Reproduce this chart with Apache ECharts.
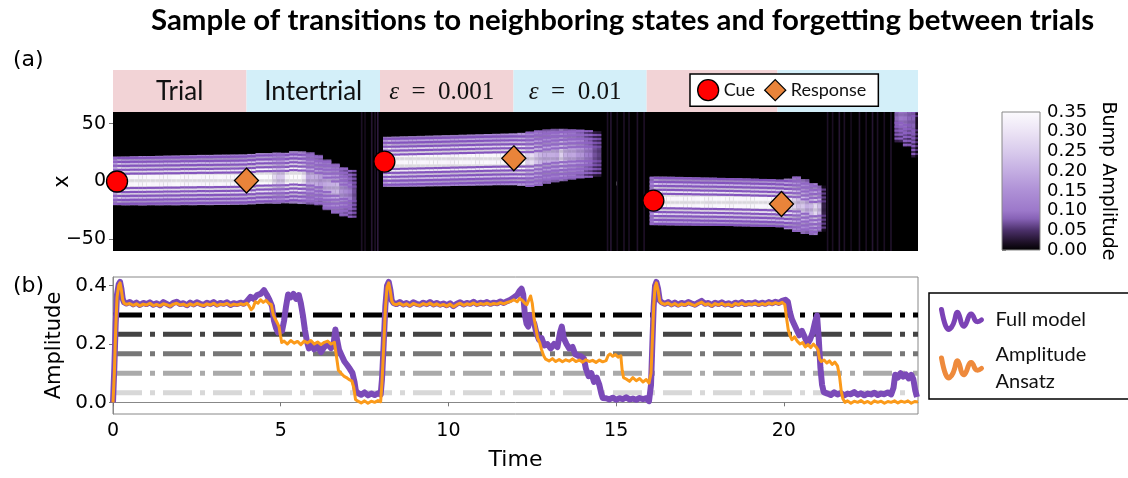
<!DOCTYPE html>
<html><head><meta charset="utf-8">
<script src="https://cdn.jsdelivr.net/npm/echarts@6/dist/echarts.min.js"></script>
<style>html,body{margin:0;padding:0;background:#fff}#c{width:1128px;height:478px}</style>
</head><body><div id="c"></div>
<script>
// ================= DATA =================
const timeTicks = [0, 5, 10, 15, 20];
const posTicks = [-50, 0, 50];
const ampTicks = [0.0, 0.2, 0.4];
const cbarTicks = [0, 0.05, 0.1, 0.15, 0.2, 0.25, 0.3, 0.35];

const phaseStart = [0, 3.98, 7.96, 11.94, 15.91, 19.81];
const phaseEnd   = [3.98, 7.96, 11.94, 15.91, 19.81, 24];
const phaseLabel = ['Trial', 'Intertrial', '{e|ε}  =  0.001', '{e|ε}  =  0.01', '', ''];
const phaseKind  = ['trial', 'inter', 'trial', 'inter', 'trial', 'inter'];

const cueTime  = [0.12, 8.09, 16.11];
const cueX     = [0, 17.2, -16.5];
const respTime = [3.98, 11.95, 19.93];
const respX    = [0.8, 20, -19.4];

const thresholdLevels = [0.3, 0.2333, 0.1667, 0.1, 0.0333];
const thresholdColors = ['#000000', '#444444', '#777777', '#aaaaaa', '#d8d8d8'];

// Full model amplitude [time, amplitude]
const fullModel = [
[0,0.0],[0.04,0.12],[0.08,0.27],[0.12,0.37],[0.17,0.405],[0.21,0.413],[0.25,0.39],[0.29,0.355],[0.33,0.343],
[0.4,0.339],[0.5,0.344],[0.6,0.336],[0.7,0.342],[0.8,0.334],[0.9,0.341],[1.0,0.337],[1.1,0.343],[1.2,0.335],[1.3,0.340],[1.4,0.333],[1.5,0.344],[1.6,0.338],[1.7,0.332],[1.8,0.341],[1.9,0.345],[2.0,0.337],[2.1,0.340],[2.2,0.333],[2.3,0.342],[2.4,0.336],[2.5,0.343],[2.6,0.338],[2.7,0.334],[2.8,0.342],[2.9,0.337],[3.0,0.344],[3.1,0.335],[3.2,0.341],[3.3,0.338],[3.4,0.343],[3.5,0.334],[3.6,0.340],[3.7,0.337],[3.8,0.342],[3.9,0.338],
[4.0,0.348],[4.1,0.362],[4.2,0.355],[4.3,0.368],[4.4,0.372],[4.5,0.385],[4.58,0.37],[4.66,0.352],[4.74,0.33],[4.8,0.28],[4.86,0.255],[4.92,0.24],[4.98,0.252],[5.04,0.245],[5.1,0.28],[5.16,0.33],[5.22,0.37],[5.3,0.36],[5.38,0.372],[5.46,0.355],[5.54,0.368],[5.6,0.34],[5.66,0.3],[5.72,0.25],[5.78,0.21],[5.84,0.185],[5.9,0.2],[6.0,0.182],[6.1,0.195],[6.2,0.172],[6.3,0.19],[6.4,0.2],[6.5,0.186],[6.58,0.205],[6.63,0.25],[6.68,0.215],[6.74,0.18],[6.82,0.16],[6.9,0.14],[6.98,0.128],[7.06,0.115],[7.14,0.1],[7.2,0.07],[7.24,0.04],[7.3,0.032],[7.4,0.026],[7.5,0.034],[7.6,0.024],[7.7,0.03],[7.8,0.025],[7.9,0.031],[7.98,0.027],
[8.02,0.08],[8.07,0.2],[8.12,0.33],[8.17,0.4],[8.22,0.413],[8.27,0.385],[8.31,0.35],[8.36,0.341],
[8.45,0.337],[8.55,0.344],[8.65,0.336],[8.75,0.341],[8.85,0.334],[8.95,0.343],[9.05,0.338],[9.15,0.335],[9.25,0.342],[9.35,0.337],[9.45,0.344],[9.55,0.336],[9.65,0.341],[9.75,0.335],[9.85,0.339],[9.95,0.333],[10.05,0.34],[10.15,0.33],[10.25,0.338],[10.35,0.343],[10.45,0.336],[10.55,0.341],[10.65,0.338],[10.75,0.345],[10.85,0.337],[10.95,0.342],[11.05,0.339],[11.15,0.344],[11.25,0.338],[11.35,0.342],[11.45,0.34],[11.55,0.346],[11.65,0.341],[11.75,0.347],[11.85,0.352],
[11.95,0.36],[12.05,0.368],[12.12,0.382],[12.18,0.39],[12.23,0.37],[12.28,0.3],[12.33,0.27],[12.38,0.26],[12.44,0.3],[12.5,0.285],[12.56,0.27],[12.62,0.24],[12.7,0.215],[12.78,0.22],[12.86,0.195],[12.95,0.2],[13.05,0.185],[13.15,0.2],[13.25,0.19],[13.33,0.24],[13.38,0.26],[13.44,0.22],[13.52,0.2],[13.6,0.185],[13.7,0.19],[13.78,0.165],[13.86,0.16],[13.95,0.158],[14.04,0.15],[14.1,0.115],[14.18,0.09],[14.26,0.1],[14.34,0.07],[14.42,0.085],[14.5,0.06],[14.56,0.03],[14.6,0.015],
[14.7,0.014],[14.8,0.01],[14.9,0.016],[15.0,0.009],[15.1,0.014],[15.2,0.011],[15.3,0.017],[15.4,0.01],[15.5,0.013],[15.6,0.009],[15.7,0.015],[15.8,0.011],[15.9,0.014],[15.98,0.004],
[16.04,0.06],[16.08,0.2],[16.12,0.33],[16.16,0.4],[16.2,0.413],[16.25,0.39],[16.3,0.35],[16.36,0.343],
[16.45,0.338],[16.55,0.344],[16.65,0.336],[16.75,0.342],[16.85,0.335],[16.95,0.341],[17.05,0.337],[17.15,0.344],[17.25,0.339],[17.35,0.335],[17.45,0.342],[17.55,0.348],[17.65,0.338],[17.75,0.341],[17.85,0.334],[17.95,0.342],[18.05,0.337],[18.15,0.343],[18.25,0.336],[18.35,0.34],[18.45,0.334],[18.55,0.342],[18.65,0.338],[18.75,0.344],[18.85,0.337],[18.95,0.341],[19.05,0.339],[19.15,0.343],[19.25,0.337],[19.35,0.342],[19.45,0.338],[19.55,0.344],[19.65,0.34],[19.75,0.345],[19.85,0.341],[19.95,0.348],
[20.05,0.352],[20.12,0.345],[20.18,0.31],[20.24,0.285],[20.3,0.27],[20.38,0.25],[20.46,0.23],[20.54,0.245],[20.62,0.225],[20.7,0.2],[20.78,0.215],[20.86,0.24],[20.93,0.275],[20.99,0.298],[21.04,0.22],[21.09,0.12],[21.14,0.06],[21.19,0.035],
[21.3,0.03],[21.4,0.025],[21.5,0.034],[21.6,0.027],[21.7,0.032],[21.8,0.024],[21.9,0.03],[22.0,0.028],[22.1,0.035],[22.2,0.026],[22.3,0.031],[22.4,0.024],[22.5,0.03],[22.6,0.027],[22.7,0.033],[22.8,0.025],[22.9,0.03],[23.0,0.028],[23.1,0.034],[23.2,0.027],[23.27,0.05],
[23.32,0.095],[23.4,0.085],[23.48,0.1],[23.56,0.088],[23.64,0.096],[23.72,0.082],[23.8,0.094],[23.86,0.08],[23.92,0.04],[23.97,0.018],[24.0,0.02]
];

// Amplitude Ansatz [time, amplitude]
const ansatz = [
[0,0.0],[0.04,0.1],[0.08,0.25],[0.12,0.36],[0.17,0.4],[0.21,0.41],[0.25,0.385],[0.29,0.352],[0.33,0.34],
[0.4,0.336],[0.5,0.339],[0.6,0.333],[0.7,0.338],[0.8,0.331],[0.9,0.337],[1.0,0.334],[1.1,0.34],[1.2,0.332],[1.3,0.336],[1.4,0.331],[1.5,0.338],[1.6,0.335],[1.7,0.33],[1.8,0.337],[1.9,0.34],[2.0,0.334],[2.1,0.337],[2.2,0.331],[2.3,0.338],[2.4,0.333],[2.5,0.339],[2.6,0.335],[2.7,0.332],[2.8,0.338],[2.9,0.334],[3.0,0.34],[3.1,0.332],[3.2,0.337],[3.3,0.335],[3.4,0.339],[3.5,0.332],[3.6,0.337],[3.7,0.334],[3.8,0.338],[3.9,0.335],
[4.0,0.34],[4.06,0.33],[4.12,0.318],[4.18,0.325],[4.24,0.345],[4.32,0.34],[4.4,0.352],[4.48,0.343],[4.56,0.35],[4.64,0.34],[4.72,0.335],[4.78,0.3],[4.84,0.285],[4.9,0.272],[4.95,0.26],[4.99,0.23],[5.03,0.205],[5.1,0.21],[5.2,0.2],[5.3,0.212],[5.4,0.203],[5.5,0.209],[5.6,0.198],[5.7,0.21],[5.8,0.204],[5.9,0.212],[6.0,0.2],[6.1,0.207],[6.2,0.198],[6.3,0.206],[6.4,0.21],[6.5,0.2],[6.6,0.206],[6.66,0.16],[6.72,0.11],[6.8,0.1],[6.88,0.09],[6.96,0.085],[7.04,0.078],[7.12,0.074],[7.18,0.05],[7.23,0.01],[7.3,0.004],[7.4,-0.002],[7.5,0.005],[7.6,-0.003],[7.7,0.004],[7.8,0.0],[7.9,0.006],[7.98,0.002],
[8.02,0.07],[8.07,0.19],[8.12,0.32],[8.17,0.395],[8.22,0.41],[8.27,0.38],[8.31,0.348],[8.36,0.338],
[8.45,0.335],[8.55,0.34],[8.65,0.333],[8.75,0.338],[8.85,0.331],[8.95,0.339],[9.05,0.335],[9.15,0.332],[9.25,0.339],[9.35,0.334],[9.45,0.341],[9.55,0.333],[9.65,0.338],[9.75,0.332],[9.85,0.336],[9.95,0.33],[10.05,0.337],[10.15,0.328],[10.25,0.335],[10.35,0.34],[10.45,0.333],[10.55,0.338],[10.65,0.335],[10.75,0.341],[10.85,0.334],[10.95,0.339],[11.05,0.336],[11.15,0.34],[11.25,0.335],[11.35,0.339],[11.45,0.337],[11.55,0.342],[11.65,0.338],[11.75,0.343],[11.85,0.346],
[11.95,0.352],[12.05,0.345],[12.12,0.356],[12.2,0.35],[12.28,0.34],[12.34,0.335],[12.4,0.352],[12.45,0.365],[12.5,0.34],[12.55,0.29],[12.6,0.26],[12.66,0.22],[12.72,0.205],[12.78,0.18],[12.84,0.16],[12.9,0.148],[13.0,0.142],[13.1,0.15],[13.2,0.14],[13.3,0.147],[13.4,0.139],[13.5,0.146],[13.6,0.141],[13.7,0.149],[13.8,0.14],[13.9,0.145],[14.0,0.138],[14.1,0.146],[14.2,0.14],[14.3,0.144],[14.4,0.137],[14.5,0.145],[14.6,0.139],[14.7,0.143],[14.76,0.16],[14.82,0.166],[14.9,0.158],[14.98,0.164],[15.06,0.155],[15.14,0.16],[15.18,0.11],[15.22,0.085],[15.3,0.08],[15.4,0.072],[15.5,0.085],[15.6,0.074],[15.7,0.082],[15.8,0.07],[15.9,0.078],[15.98,0.066],
[16.04,0.1],[16.08,0.21],[16.12,0.33],[16.16,0.395],[16.2,0.41],[16.25,0.385],[16.3,0.348],[16.36,0.34],
[16.45,0.336],[16.55,0.341],[16.65,0.333],[16.75,0.339],[16.85,0.332],[16.95,0.338],[17.05,0.334],[17.15,0.341],[17.25,0.336],[17.35,0.332],[17.45,0.339],[17.55,0.344],[17.65,0.335],[17.75,0.338],[17.85,0.331],[17.95,0.339],[18.05,0.334],[18.15,0.34],[18.25,0.333],[18.35,0.337],[18.45,0.331],[18.55,0.339],[18.65,0.335],[18.75,0.341],[18.85,0.334],[18.95,0.338],[19.05,0.336],[19.15,0.34],[19.25,0.334],[19.35,0.339],[19.45,0.335],[19.55,0.341],[19.65,0.337],[19.75,0.342],[19.85,0.338],[19.95,0.343],
[20.03,0.335],[20.08,0.29],[20.13,0.25],[20.18,0.23],[20.24,0.215],[20.32,0.225],[20.4,0.21],[20.48,0.2],[20.56,0.205],[20.64,0.19],[20.72,0.198],[20.8,0.188],[20.88,0.2],[20.96,0.19],[21.02,0.18],[21.06,0.15],[21.12,0.14],[21.2,0.145],[21.28,0.135],[21.36,0.142],[21.44,0.13],[21.52,0.138],[21.6,0.125],[21.66,0.09],[21.71,0.04],[21.76,0.012],[21.82,0.0],
[21.9,0.005],[22.0,-0.003],[22.1,0.004],[22.2,0.0],[22.3,0.006],[22.4,-0.002],[22.5,0.003],[22.6,-0.004],[22.7,0.005],[22.8,0.0],[22.9,0.004],[23.0,-0.003],[23.1,0.003],[23.2,0.0],[23.3,0.005],[23.4,-0.002],[23.5,0.004],[23.6,0.0],[23.7,0.005],[23.8,-0.003],[23.9,0.003],[24.0,0.001]
];

// Bump edges in panel (a): start time of each 0.25-wide column, upper and lower edge (x)
const bumpTime = [
0,0.25,0.5,0.75,1,1.25,1.5,1.75,2,2.25,2.5,2.75,3,3.25,3.5,3.75,4,4.25,4.5,4.75,5,5.25,5.5,5.75,6,6.25,6.5,6.75,7,
8.05,8.3,8.55,8.8,9.05,9.3,9.55,9.8,10.05,10.3,10.55,10.8,11.05,11.3,11.55,11.8,12.05,12.3,12.55,12.8,13.05,13.3,13.55,13.8,14.05,14.3,
16,16.25,16.5,16.75,17,17.25,17.5,17.75,18,18.25,18.5,18.75,19,19.25,19.5,19.75,20,20.25,20.5,20.75,21,
23.3,23.55,23.8
];
const bumpTop = [
21.5,21.6,21.8,22,22,22.2,22.4,22.5,22.7,22.8,23,23,23.1,23.2,23.3,23.4,23.8,24.5,24.5,25,24.8,26.2,26,25.2,23,19,15.5,12.5,10,
38.6,38.8,39,39.2,39.4,39.6,39.8,40,40.2,40.4,40.6,40.8,41,41.2,41.4,41.6,42,43,44,45,45.5,45.5,45.3,45,44.3,43.6,
4.2,4.2,4.1,4,3.8,3.6,3.4,3.3,3.1,3,2.8,2.6,2.4,2.2,2,1.6,2.5,4.2,2,-1.4,-3.5,
80,80,80
];
const bumpBottom = [
-20.2,-20.4,-20.3,-20.5,-20.3,-20.4,-20.3,-20.4,-20.2,-20.3,-20.1,-20.2,-20,-20,-19.9,-19.8,-19.5,-19,-18.8,-19,-18.6,-18.8,-19.2,-19.6,-20.3,-24.5,-27.5,-30,-31,
-4.3,-4.4,-4.3,-4.2,-4.1,-4,-3.9,-3.8,-3.6,-3.5,-3.4,-3.2,-3.1,-3,-3,-3,-3.5,-4.4,-3.5,-1.8,-0.5,0.5,1.8,2.8,3.5,4.1,
-37.5,-37.6,-37.7,-37.8,-37.8,-37.9,-38,-38,-38.1,-38.2,-38.4,-38.5,-38.7,-38.8,-39,-39.2,-41,-43.3,-45,-46,-43,
34,30,21
];
// faint full-height streaks between trials
const streakTime  = [7.41,7.51,7.71,7.81,7.89,14.74,14.84,15.03,15.23,15.38,15.63,15.83,21.3,21.45,21.65,21.8,22.0,22.25,22.45,22.64,22.79,22.99,23.19];
const streakLevel = [0.02,0.015,0.025,0.02,0.03,0.02,0.025,0.015,0.02,0.018,0.022,0.02,0.02,0.018,0.025,0.02,0.015,0.022,0.018,0.025,0.02,0.018,0.022];

// colormap stops (value, colour)
const cmapStops = [[0,'#000000'],[0.02,'#1d1026'],[0.05,'#4a2f68'],[0.08,'#8762b6'],[0.1,'#9c78ca'],[0.15,'#ae90d6'],[0.2,'#c4aee2'],[0.25,'#d9cbec'],[0.3,'#ece4f5'],[0.35,'#fcfbfe']];

// ================= HELPERS =================
function hex2rgb(h){return [parseInt(h.slice(1,3),16),parseInt(h.slice(3,5),16),parseInt(h.slice(5,7),16)];}
function rgb2str(c){return 'rgb('+c.map(v=>Math.round(v)).join(',')+')';}
function cmapRGB(v){
  if (v <= cmapStops[0][0]) return hex2rgb(cmapStops[0][1]);
  for (let i=1;i<cmapStops.length;i++){
    if (v <= cmapStops[i][0]) {
      const a=cmapStops[i-1], b=cmapStops[i], f=(v-a[0])/(b[0]-a[0]);
      const ca=hex2rgb(a[1]), cb=hex2rgb(b[1]);
      return ca.map((x,k)=>x+(cb[k]-x)*f);
    }
  }
  return hex2rgb(cmapStops[cmapStops.length-1][1]);
}
function nearestAmp(t){
  let best=fullModel[0], bd=1e9;
  for (const p of fullModel){ const d=Math.abs(p[0]-t); if (d<bd){bd=d;best=p;} }
  return Math.max(0,best[1]);
}
// heat cells: [t0, t1, x0, x1, value, stripe]
const heatCells = [];
const stripeCells = [];
streakTime.forEach((t,i)=>heatCells.push([t-0.02, t+0.02, -60, 60, streakLevel[i], 0]));
for (let k=0;k<bumpTime.length;k++){
  const top=Math.min(60,bumpTop[k]), bot=Math.max(-60,bumpBottom[k]);
  const c=(bumpTop[k]+bumpBottom[k])/2, w=(bumpTop[k]-bumpBottom[k])/2;
  for (let s=0;s<2;s++){
    const a=bumpTime[k]+s*0.125, b=Math.min(24,a+0.125);
    const amp=nearestAmp(a+0.0625);
    for (let y=Math.floor(bot); y<top; y++){
      const y0=Math.max(y,bot), y1=Math.min(y+1,top);
      const dist=Math.abs((y0+y1)/2-c), d=dist/w;
      const v=amp*(1-0.62*Math.min(1,Math.max(0,(d-0.24)/0.76)));
      heatCells.push([a,b,y0,y1,v,0]);
    }
    // contour-like darker lines on both sides of the bump centre
    for (let r=6.2; r<w-0.5; r+=3.4){
      for (const sg of [1,-1]){
        const yc=c+sg*r, y0=Math.max(bot,yc-0.8), y1=Math.min(top,yc+0.8);
        if (y1>y0) stripeCells.push([a,b,y0,y1,amp,1]);
      }
    }
  }
}
const allCells = heatCells.concat(stripeCells);

const FONT = "'DejaVu Sans'";
const CAL = "Lato";
const squiggle = 'path://M1,2 Q5,24 9,21 Q13,18 15,7 Q17,0 20,14 Q23,24 27,10 Q30,2 33,11 Q35,16 40,12';

const chart = echarts.init(document.getElementById('c'), null, {renderer:'canvas'});
const option = {
  animation: false,
  backgroundColor: '#ffffff',
  title: [
    {text:'Sample of transitions to neighboring states and forgetting between trials', left:146, top:1,
     textStyle:{fontFamily:CAL, fontWeight:'bold', fontSize:29.4, color:'#000'}},
    {text:'(a)', left:8, top:44, textStyle:{fontFamily:FONT, fontWeight:'normal', fontSize:22, color:'#000'}},
    {text:'(b)', left:8, top:270, textStyle:{fontFamily:FONT, fontWeight:'normal', fontSize:22, color:'#000'}}
  ],
  legend: [
    {data:[{name:'Cue', icon:'circle', itemStyle:{borderColor:'#000', borderWidth:1.3, opacity:1}},
           {name:'Response', icon:'diamond', itemStyle:{borderColor:'#000', borderWidth:1.3, opacity:1}}],
     left:690, top:74, padding:[5,12,5,7], itemGap:9, itemWidth:21, itemHeight:21,
     selectedMode:false, backgroundColor:'#fff', borderColor:'#000', borderWidth:1.5,
     textStyle:{fontFamily:CAL, fontSize:18, color:'#111'}},
    {data:[{name:'Full model', icon:squiggle, itemStyle:{color:'rgba(0,0,0,0)', borderColor:'#7b42b5', borderWidth:5, borderCap:'round', borderJoin:'round'}},
           {name:'Amplitude Ansatz', icon:squiggle, itemStyle:{color:'rgba(0,0,0,0)', borderColor:'#ee8a3c', borderWidth:5, borderCap:'round', borderJoin:'round'}}],
     orient:'vertical', left:929, top:293, padding:[13,90,4,10], itemGap:8, itemWidth:40, itemHeight:24,
     selectedMode:false, backgroundColor:'#fff', borderColor:'#000', borderWidth:1.5,
     formatter: n => n==='Amplitude Ansatz' ? 'Amplitude\nAnsatz' : n,
     textStyle:{fontFamily:CAL, fontSize:20, lineHeight:27, color:'#111', padding:[0,0,0,9]}}
  ],
  grid: [
    {left:113, top:70, width:805, height:42, show:false},
    {left:113, top:112, width:805, height:139, show:true, backgroundColor:'#000', borderWidth:0},
    {left:113, top:277, width:805, height:137, show:true, borderColor:'#888', borderWidth:1},
    {left:1002, top:112, width:38, height:138, show:false}
  ],
  xAxis: [
    {gridIndex:0, type:'value', min:0, max:24, show:false},
    {gridIndex:1, type:'value', min:0, max:24, axisLine:{show:false}, splitLine:{show:false},
     axisTick:{show:true, length:4, lineStyle:{color:'#777'}, customValues:timeTicks}, axisLabel:{show:false, customValues:timeTicks}},
    {gridIndex:2, type:'value', min:0, max:24, name:'Time', nameLocation:'middle', nameGap:35,
     nameTextStyle:{fontFamily:FONT, fontSize:22, color:'#000'},
     axisLine:{show:true, lineStyle:{color:'#888'}}, splitLine:{show:false},
     axisTick:{show:true, length:4, lineStyle:{color:'#777'}, customValues:timeTicks},
     axisLabel:{customValues:timeTicks, margin:8, fontFamily:FONT, fontSize:19, color:'#000'}},
    {gridIndex:3, type:'value', min:0, max:1, show:false}
  ],
  yAxis: [
    {gridIndex:0, type:'value', min:0, max:1, show:false},
    {gridIndex:1, type:'value', min:-60, max:60, name:'x', nameLocation:'middle', nameGap:40, nameMoveOverlap:false,
     nameTextStyle:{fontFamily:FONT, fontSize:21, color:'#000'},
     axisLine:{show:false}, splitLine:{show:false},
     axisTick:{show:true, length:4, lineStyle:{color:'#777'}, customValues:posTicks},
     axisLabel:{customValues:posTicks, margin:7, fontFamily:FONT, fontSize:19, color:'#000',
       formatter: v => (v<0 ? '\u2212'+Math.abs(v) : ''+v)}},
    {gridIndex:2, type:'value', min:-0.04, max:0.43, name:'Amplitude', nameLocation:'middle', nameGap:48, nameMoveOverlap:false,
     nameTextStyle:{fontFamily:FONT, fontSize:21, color:'#000'},
     axisLine:{show:true, lineStyle:{color:'#888'}}, splitLine:{show:false},
     axisTick:{show:true, length:4, lineStyle:{color:'#777'}, customValues:ampTicks},
     axisLabel:{customValues:ampTicks, margin:6, fontFamily:FONT, fontSize:20, color:'#000', formatter: v => v.toFixed(1)}},
    {gridIndex:3, type:'value', min:0, max:0.35, position:'right', name:'Bump Amplitude', nameLocation:'middle', nameGap:58, nameRotate:-90,
     nameTextStyle:{fontFamily:FONT, fontSize:19, color:'#000'},
     axisLine:{show:false}, splitLine:{show:false},
     axisTick:{show:true, length:4, lineStyle:{color:'#777'}, customValues:cbarTicks},
     axisLabel:{customValues:cbarTicks, margin:7, fontFamily:FONT, fontSize:18, color:'#000', formatter: v => v.toFixed(2)}}
  ],
  series: [
    {type:'custom', name:'phases', xAxisIndex:0, yAxisIndex:0, silent:true,
     data: phaseStart.map((s,i)=>[s, phaseEnd[i], i]),
     encode:{x:[0,1]},
     renderItem:(params, api)=>{
       const i=api.value(2);
       const p0=api.coord([api.value(0),1]), p1=api.coord([api.value(1),0]);
       const children=[{type:'rect', shape:{x:p0[0], y:p0[1], width:p1[0]-p0[0], height:p1[1]-p0[1]},
         style:{fill: phaseKind[i]==='trial' ? '#f2d3d6' : '#d3eff9'}}];
       if (phaseLabel[i]) {
         const isEps = phaseLabel[i].indexOf('{e|')===0;
         children.push({type:'text', x:(p0[0]+p1[0])/2 - (isEps ? 5 : 0), y:(p0[1]+p1[1])/2+1,
           style:{text:phaseLabel[i], align:'center', verticalAlign:'middle', fill:'#111',
             fontFamily: isEps ? 'Liberation Serif' : CAL, fontSize: isEps ? 25 : 26,
             rich:{e:{fontFamily:'Liberation Serif', fontStyle:'italic', fontSize:25, fill:'#111'}}}});
       }
       return {type:'group', children};
     }},
    {type:'custom', name:'heat', xAxisIndex:1, yAxisIndex:1, silent:true, z:1,
     data: allCells, encode:{x:[0,1], y:[2,3]},
     renderItem:(params, api)=>{
       const p0=api.coord([api.value(0), api.value(3)]);
       const p1=api.coord([api.value(1), api.value(2)]);
       let col;
       if (api.value(5)) {
         const amp=api.value(4);
         const s=hex2rgb('#8353bd'), w=cmapRGB(amp);
         const f=Math.min(1, 0.45+amp*1.6);
         col=w.map((x,k)=>x*(1-f)+s[k]*f);
       } else col=cmapRGB(api.value(4));
       const cs=params.coordSys;
       const rect=echarts.graphic.clipRectByRect({x:p0[0], y:p0[1], width:p1[0]-p0[0]+0.3, height:p1[1]-p0[1]+0.3},
         {x:cs.x, y:cs.y, width:cs.width, height:cs.height});
       if (!rect) return null;
       return {type:'rect', shape:rect, style:{fill:rgb2str(col)}};
     }},
    {type:'scatter', name:'Cue', xAxisIndex:1, yAxisIndex:1, z:5, symbol:'circle', symbolSize:21,
     itemStyle:{color:'#ff0000', borderColor:'#000', borderWidth:1.3, opacity:1},
     data: cueTime.map((t,i)=>[t, cueX[i]])},
    {type:'scatter', name:'Response', xAxisIndex:1, yAxisIndex:1, z:5, symbol:'diamond', symbolSize:[24,25],
     itemStyle:{color:'#e9843a', borderColor:'#000', borderWidth:1.3, opacity:1},
     data: respTime.map((t,i)=>[t, respX[i]])},
    ...thresholdLevels.map((lvl,i)=>({type:'line', name:'thr'+i, xAxisIndex:2, yAxisIndex:2, z:2, silent:true,
      showSymbol:false, symbol:'none', data:[[0,lvl],[24,lvl]],
      lineStyle:{color:thresholdColors[i], width:5, type:[29,8,5,8], cap:'butt'}})),
    {type:'line', name:'Full model', xAxisIndex:2, yAxisIndex:2, z:3, showSymbol:false, symbol:'none',
     data: fullModel, lineStyle:{color:'#7b4ab8', width:6, join:'round'}, itemStyle:{color:'#7b4ab8'}},
    {type:'line', name:'Amplitude Ansatz', xAxisIndex:2, yAxisIndex:2, z:4, showSymbol:false, symbol:'none',
     data: ansatz, lineStyle:{color:'#fb9a1a', width:3, join:'round'}, itemStyle:{color:'#fb9a1a'}},
    {type:'custom', name:'colorbar', xAxisIndex:3, yAxisIndex:3, silent:true,
     data:[[0,1,0,0.35]], encode:{x:[0,1], y:[2,3]},
     renderItem:(params, api)=>{
       const p0=api.coord([api.value(0), api.value(3)]);
       const p1=api.coord([api.value(1), api.value(2)]);
       const stops=cmapStops.map(s=>({offset:s[0]/0.35, color:s[1]}));
       return {type:'rect', shape:{x:p0[0], y:p0[1], width:p1[0]-p0[0], height:p1[1]-p0[1]},
         style:{fill:new echarts.graphic.LinearGradient(0,1,0,0,stops), stroke:'#888', lineWidth:1}};
     }}
  ]
};
chart.setOption(option);
</script>
</body></html>
